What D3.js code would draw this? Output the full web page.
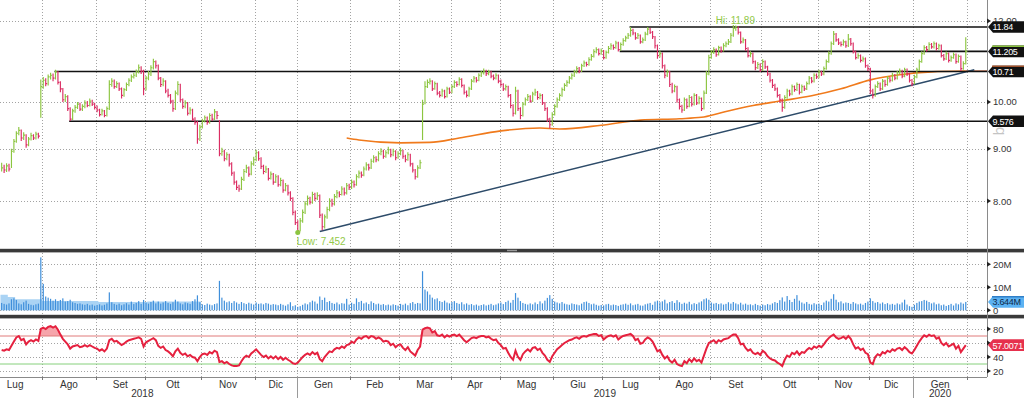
<!DOCTYPE html>
<html>
<head>
<meta charset="utf-8">
<script src="https://cdnjs.cloudflare.com/ajax/libs/d3/7.8.5/d3.min.js"></script>
<style>
  body { margin: 0; background: #fff; }
  svg { display: block; font-family: 'Liberation Sans', Arial, sans-serif; }
</style>
</head>
<body>
<div class="canvas"></div>
<script>
// daily bars, first one on 2018-07-09
const firstDate = '2018-07-09'
const closes = [
  8.62, 8.58, 8.66, 8.60, 8.95, 9.15, 9.32, 9.38, 9.22, 9.28,
  9.08, 9.20, 9.27, 9.22, 9.30, 9.26, 10.35, 10.50, 10.42, 10.58,
  10.62, 10.55, 10.70, 10.45, 10.30, 10.05, 10.12, 9.85, 9.62, 9.80,
  9.88, 9.95, 9.84, 9.90, 9.98, 9.92, 10.02, 9.95, 9.88, 9.82,
  9.72, 9.80, 9.70, 9.85, 10.40, 10.48, 10.35, 10.42, 10.30, 10.15,
  10.28, 10.40, 10.50, 10.58, 10.62, 10.70, 10.80, 10.72, 10.30, 10.55,
  10.65, 10.80, 10.95, 10.85, 10.55, 10.40, 10.48, 10.25, 10.15, 10.02,
  9.85, 10.20, 10.40, 10.05, 9.90, 9.98, 9.75, 9.82, 9.62, 9.55,
  9.20, 9.45, 9.58, 9.65, 9.55, 9.70, 9.62, 9.78, 9.70, 8.90,
  8.95, 8.80, 8.88, 8.70, 8.52, 8.35, 8.25, 8.22, 8.40, 8.55,
  8.62, 8.50, 8.70, 8.78, 8.92, 8.80, 8.65, 8.55, 8.60, 8.42,
  8.50, 8.35, 8.45, 8.30, 8.38, 8.20, 8.28, 8.15, 8.05, 7.80,
  7.62, 7.48, 7.65, 7.80, 7.95, 8.05, 7.98, 8.12, 8.05, 8.10,
  7.75, 7.55, 7.72, 7.85, 8.00, 7.95, 8.08, 8.15, 8.12, 8.22,
  8.15, 8.28, 8.25, 8.35, 8.30, 8.45, 8.52, 8.48, 8.60, 8.68,
  8.62, 8.75, 8.82, 8.78, 8.90, 8.95, 8.85, 8.92, 8.98, 8.88,
  8.95, 8.82, 8.90, 8.96, 8.85, 8.78, 8.88, 8.70, 8.58, 8.45,
  8.62, 8.72, 9.95, 10.35, 10.45, 10.48, 10.30, 10.42, 10.20, 10.15,
  10.25, 10.12, 10.30, 10.22, 10.35, 10.45, 10.40, 10.52, 10.38, 10.22,
  10.15, 10.30, 10.48, 10.55, 10.50, 10.62, 10.68, 10.72, 10.66, 10.70,
  10.60, 10.55, 10.62, 10.48, 10.40, 10.30, 10.35, 10.15, 9.92, 9.75,
  10.25, 9.85, 9.70, 9.95, 10.05, 10.12, 10.02, 10.18, 10.22, 10.10,
  10.15, 9.98, 9.85, 9.62, 9.50, 9.72, 9.90, 10.05, 10.15, 10.28,
  10.38, 10.45, 10.55, 10.62, 10.70, 10.78, 10.72, 10.85, 10.92, 10.88,
  11.00, 11.08, 11.20, 11.25, 11.15, 11.22, 11.05, 11.18, 11.28, 11.35,
  11.30, 11.42, 11.25, 11.38, 11.48, 11.55, 11.62, 11.75, 11.68, 11.55,
  11.62, 11.45, 11.50, 11.65, 11.78, 11.70, 11.58, 11.35, 11.10, 11.15,
  10.85, 10.62, 10.70, 10.40, 10.25, 10.35, 10.05, 9.90, 9.82, 10.05,
  9.90, 10.10, 9.95, 10.15, 9.98, 10.08, 9.85, 10.20, 10.65, 11.05,
  11.18, 11.25, 11.12, 11.30, 11.22, 11.35, 11.40, 11.45, 11.62, 11.80,
  11.85, 11.70, 11.45, 11.50, 11.28, 11.10, 11.15, 10.95, 10.80, 10.88,
  10.75, 10.95, 10.82, 10.65, 10.50, 10.38, 10.30, 10.15, 10.05, 9.88,
  10.10, 10.25, 10.18, 10.35, 10.28, 10.40, 10.22, 10.35, 10.30, 10.42,
  10.55, 10.48, 10.62, 10.58, 10.70, 10.65, 10.78, 10.95, 11.15, 11.40,
  11.65, 11.50, 11.42, 11.38, 11.45, 11.35, 11.52, 11.40, 11.20, 11.05,
  11.10, 10.98, 11.02, 10.85, 10.78, 10.25, 10.15, 10.35, 10.42, 10.30,
  10.48, 10.40, 10.55, 10.50, 10.62, 10.55, 10.68, 10.72, 10.60, 10.75,
  10.65, 10.50, 10.42, 10.58, 10.75, 10.95, 11.15, 11.30, 11.25, 11.38,
  11.32, 11.40, 11.28, 11.35, 11.10, 11.02, 11.15, 10.98, 11.05, 11.12,
  10.95, 11.08, 10.78, 10.90, 11.205
]
const highs = [
  8.72, 8.68, 8.71, 8.70, 9.00, 9.20, 9.36, 9.45, 9.40, 9.34,
  9.30, 9.24, 9.33, 9.30, 9.35, 9.33, 10.52, 10.58, 10.55, 10.64,
  10.68, 10.66, 10.75, 10.72, 10.48, 10.32, 10.18, 10.15, 9.88, 9.85,
  9.93, 10.00, 9.98, 9.95, 10.04, 10.02, 10.08, 10.05, 9.98, 9.92,
  9.85, 9.85, 9.82, 9.90, 10.50, 10.55, 10.52, 10.48, 10.45, 10.33,
  10.32, 10.45, 10.55, 10.64, 10.68, 10.76, 10.88, 10.84, 10.75, 10.60,
  10.72, 10.86, 11.02, 10.98, 10.88, 10.58, 10.55, 10.50, 10.30, 10.18,
  10.05, 10.26, 10.48, 10.42, 10.08, 10.04, 10.00, 9.88, 9.85, 9.66,
  9.58, 9.50, 9.63, 9.70, 9.68, 9.75, 9.74, 9.84, 9.80, 9.60,
  9.02, 8.98, 8.93, 8.90, 8.73, 8.55, 8.38, 8.30, 8.45, 8.60,
  8.68, 8.65, 8.75, 8.84, 8.98, 8.95, 8.83, 8.68, 8.66, 8.62,
  8.55, 8.52, 8.50, 8.48, 8.43, 8.40, 8.33, 8.30, 8.18, 8.07,
  7.83, 7.66, 7.70, 7.85, 8.00, 8.10, 8.08, 8.17, 8.15, 8.16,
  8.12, 7.78, 7.76, 7.90, 8.05, 8.04, 8.13, 8.20, 8.18, 8.27,
  8.25, 8.33, 8.32, 8.40, 8.38, 8.50, 8.57, 8.55, 8.65, 8.73,
  8.70, 8.80, 8.87, 8.85, 8.95, 9.01, 8.98, 8.97, 9.04, 9.00,
  9.00, 8.97, 8.95, 9.02, 8.98, 8.88, 8.93, 8.90, 8.72, 8.60,
  8.67, 8.78, 10.05, 10.48, 10.52, 10.55, 10.50, 10.47, 10.44, 10.25,
  10.30, 10.28, 10.35, 10.33, 10.40, 10.50, 10.48, 10.57, 10.55, 10.40,
  10.26, 10.35, 10.53, 10.60, 10.58, 10.67, 10.73, 10.78, 10.75, 10.75,
  10.73, 10.64, 10.67, 10.64, 10.52, 10.43, 10.40, 10.37, 10.18, 9.95,
  10.35, 10.28, 9.88, 10.00, 10.10, 10.18, 10.15, 10.23, 10.30, 10.25,
  10.20, 10.18, 10.00, 9.88, 9.65, 9.77, 9.95, 10.10, 10.20, 10.33,
  10.43, 10.50, 10.60, 10.67, 10.75, 10.84, 10.82, 10.90, 10.98, 10.95,
  11.06, 11.14, 11.26, 11.31, 11.28, 11.28, 11.24, 11.23, 11.34, 11.41,
  11.38, 11.48, 11.45, 11.43, 11.54, 11.61, 11.68, 11.84, 11.79, 11.70,
  11.68, 11.64, 11.56, 11.71, 11.84, 11.81, 11.73, 11.60, 11.38, 11.22,
  11.18, 10.88, 10.76, 10.72, 10.44, 10.40, 10.37, 10.08, 9.94, 10.10,
  10.08, 10.16, 10.13, 10.20, 10.18, 10.13, 10.10, 10.26, 10.72, 11.12,
  11.24, 11.31, 11.28, 11.35, 11.33, 11.41, 11.46, 11.52, 11.68, 11.89,
  11.88, 11.86, 11.72, 11.56, 11.52, 11.31, 11.21, 11.18, 10.98, 10.94,
  10.91, 11.01, 10.98, 10.85, 10.68, 10.53, 10.42, 10.33, 10.18, 10.08,
  10.15, 10.30, 10.28, 10.40, 10.38, 10.45, 10.42, 10.40, 10.38, 10.47,
  10.60, 10.58, 10.67, 10.66, 10.75, 10.73, 10.83, 11.00, 11.21, 11.46,
  11.73, 11.68, 11.54, 11.46, 11.51, 11.48, 11.65, 11.55, 11.43, 11.23,
  11.16, 11.13, 11.08, 11.05, 10.88, 10.80, 10.30, 10.40, 10.48, 10.45,
  10.53, 10.51, 10.60, 10.58, 10.68, 10.65, 10.73, 10.78, 10.75, 10.80,
  10.78, 10.68, 10.53, 10.63, 10.80, 11.00, 11.21, 11.36, 11.34, 11.44,
  11.42, 11.46, 11.43, 11.40, 11.38, 11.14, 11.20, 11.18, 11.10, 11.18,
  11.15, 11.13, 11.10, 10.96, 11.57
]
const lows = [
  8.55, 8.52, 8.54, 8.55, 8.62, 8.92, 9.12, 9.28, 9.16, 9.18,
  9.02, 9.05, 9.17, 9.18, 9.19, 9.21, 9.65, 10.30, 10.36, 10.38,
  10.52, 10.48, 10.52, 10.40, 10.22, 10.00, 10.00, 9.80, 9.58, 9.60,
  9.76, 9.84, 9.80, 9.80, 9.86, 9.88, 9.90, 9.91, 9.83, 9.77,
  9.68, 9.70, 9.66, 9.68, 9.82, 10.35, 10.30, 10.32, 10.25, 10.08,
  10.12, 10.25, 10.36, 10.46, 10.54, 10.58, 10.66, 10.65, 10.15, 10.26,
  10.50, 10.60, 10.76, 10.78, 10.50, 10.34, 10.36, 10.20, 10.10, 9.96,
  9.78, 9.82, 10.15, 10.00, 9.85, 9.86, 9.70, 9.72, 9.58, 9.50,
  9.10, 9.16, 9.42, 9.55, 9.50, 9.52, 9.58, 9.60, 9.62, 8.85,
  8.86, 8.75, 8.77, 8.65, 8.47, 8.30, 8.20, 8.17, 8.20, 8.37,
  8.52, 8.45, 8.48, 8.66, 8.75, 8.76, 8.60, 8.50, 8.52, 8.38,
  8.40, 8.30, 8.33, 8.26, 8.27, 8.15, 8.18, 8.10, 8.00, 7.75,
  7.58, 7.452, 7.47, 7.62, 7.77, 7.92, 7.94, 7.95, 8.00, 8.02,
  7.70, 7.49, 7.52, 7.69, 7.82, 7.90, 7.92, 8.05, 8.07, 8.10,
  8.10, 8.12, 8.20, 8.22, 8.25, 8.28, 8.42, 8.43, 8.46, 8.57,
  8.57, 8.60, 8.72, 8.73, 8.75, 8.87, 8.80, 8.82, 8.89, 8.83,
  8.85, 8.77, 8.80, 8.87, 8.80, 8.73, 8.76, 8.65, 8.53, 8.40,
  8.43, 8.60, 9.18, 9.95, 10.32, 10.40, 10.25, 10.28, 10.15, 10.10,
  10.12, 10.08, 10.10, 10.18, 10.20, 10.32, 10.35, 10.38, 10.33, 10.17,
  10.10, 10.12, 10.27, 10.45, 10.45, 10.48, 10.58, 10.64, 10.60, 10.62,
  10.55, 10.50, 10.52, 10.43, 10.35, 10.25, 10.26, 10.10, 9.86, 9.68,
  9.72, 9.80, 9.62, 9.68, 9.92, 10.02, 9.98, 10.00, 10.14, 10.05,
  10.06, 9.93, 9.80, 9.56, 9.42, 9.48, 9.70, 9.87, 10.02, 10.12,
  10.25, 10.35, 10.42, 10.52, 10.58, 10.66, 10.67, 10.70, 10.82, 10.83,
  10.85, 10.97, 11.05, 11.16, 11.10, 11.12, 11.00, 11.02, 11.15, 11.25,
  11.25, 11.27, 11.20, 11.22, 11.35, 11.45, 11.52, 11.58, 11.62, 11.50,
  11.52, 11.40, 11.41, 11.47, 11.62, 11.65, 11.52, 11.28, 11.02, 11.05,
  10.78, 10.55, 10.58, 10.34, 10.20, 10.22, 9.98, 9.83, 9.76, 9.80,
  9.85, 9.88, 9.90, 9.92, 9.93, 9.95, 9.80, 9.83, 10.18, 10.62,
  11.02, 11.14, 11.07, 11.10, 11.17, 11.20, 11.31, 11.37, 11.42, 11.58,
  11.74, 11.64, 11.40, 11.41, 11.22, 11.05, 11.06, 10.90, 10.74, 10.77,
  10.70, 10.72, 10.77, 10.60, 10.45, 10.32, 10.25, 10.10, 9.98, 9.78,
  9.85, 10.07, 10.13, 10.15, 10.23, 10.25, 10.17, 10.20, 10.25, 10.27,
  10.40, 10.43, 10.45, 10.53, 10.55, 10.60, 10.62, 10.75, 10.92, 11.12,
  11.37, 11.45, 11.37, 11.33, 11.35, 11.30, 11.32, 11.35, 11.15, 11.00,
  11.02, 10.93, 10.95, 10.80, 10.72, 10.18, 10.08, 10.12, 10.32, 10.25,
  10.27, 10.35, 10.37, 10.45, 10.47, 10.50, 10.52, 10.64, 10.55, 10.57,
  10.60, 10.45, 10.36, 10.40, 10.55, 10.72, 10.92, 11.12, 11.20, 11.22,
  11.27, 11.28, 11.23, 11.25, 11.05, 10.97, 10.99, 10.93, 10.95, 11.02,
  10.90, 10.92, 10.72, 10.75, 10.88
]
// volume, millions
const volumes = [
  3.2, 2.8, 2.5, 3.0, 4.8, 5.2, 4.5, 3.0, 2.6, 3.5,
  4.2, 2.8, 2.4, 2.2, 2.6, 2.9, 23.0, 11.5, 6.0, 5.5,
  5.0, 4.2, 4.8, 4.0, 4.5, 5.2, 3.8, 4.0, 4.6, 3.5,
  3.2, 2.8, 3.0, 2.6, 2.4, 2.8, 2.2, 2.5, 2.0, 2.3,
  2.6, 2.1, 2.4, 3.0, 7.8, 3.5, 2.8, 2.4, 2.9, 2.2,
  2.6, 3.1, 2.5, 3.8, 2.7, 3.2, 4.0, 2.8, 4.5, 3.3,
  2.9, 3.6, 4.2, 3.0, 3.8, 2.9, 3.4, 4.0, 3.2, 2.8,
  3.5, 4.6, 3.8, 3.0, 2.6, 3.4, 3.1, 2.8, 4.0, 4.8,
  6.5, 3.5, 2.6, 2.3, 2.9, 2.5, 2.2, 2.7, 3.0, 12.8,
  5.5, 4.2, 3.5, 3.9, 3.2, 4.0, 3.4, 2.8, 3.6, 3.1,
  2.7, 3.3, 2.9, 2.5, 3.4, 2.8, 3.0, 2.6, 3.2, 2.9,
  2.4, 2.7, 2.5, 2.2, 2.8, 2.4, 2.0, 2.6, 3.5, 1.8,
  2.2, 1.5, 1.8, 2.4, 3.0, 2.6, 3.5, 4.2, 3.8, 2.9,
  6.0, 4.5, 5.5, 3.6, 4.0, 3.2, 2.8, 3.4, 2.6, 3.1,
  2.9, 5.0, 2.5, 3.3, 2.8, 5.2, 3.6, 4.1, 3.0, 3.4,
  2.7, 3.9, 3.2, 2.6, 2.9, 2.4, 2.7, 2.2, 2.5, 2.1,
  2.6, 2.3, 2.0, 2.8, 2.4, 2.9, 2.2, 3.1, 3.6, 2.8,
  3.2, 3.0, 17.0, 9.0, 8.2, 6.8, 5.5, 4.8, 5.2, 4.0,
  3.6, 4.2, 3.4, 3.0, 3.6, 4.0, 3.2, 2.8, 3.5, 2.6,
  3.0, 2.4, 2.7, 2.2, 2.5, 2.0, 2.3, 2.6, 2.1, 2.4,
  2.8, 2.2, 2.5, 3.0, 3.4, 2.7, 3.6, 4.2, 3.3, 4.5,
  7.5, 5.5, 4.0, 3.2, 2.8, 2.5, 3.0, 2.6, 3.4, 2.7,
  3.9, 3.0, 4.2, 5.4, 6.6, 5.0, 3.8, 3.4, 3.0, 3.6,
  2.9, 2.6, 2.4, 3.0, 2.7, 2.5, 2.2, 2.9, 3.6, 3.8,
  3.2, 2.6, 2.9, 2.4, 2.0, 2.3, 2.1, 2.6, 2.8, 2.2,
  2.5, 2.3, 1.9, 2.4, 2.6, 2.9, 2.4, 3.0, 2.2, 2.5,
  2.8, 2.1, 2.0, 2.6, 2.9, 3.2, 2.4, 3.8, 4.2, 3.5,
  3.9, 4.6, 3.0, 3.6, 4.0, 3.2, 4.4, 3.5, 2.8, 3.3,
  2.9, 3.7, 2.6, 3.1, 2.7, 3.4, 3.9, 4.8, 5.2, 4.6,
  3.4, 2.9, 3.2, 2.7, 3.0, 2.5, 2.8, 3.5, 2.9, 3.6,
  3.0, 2.6, 3.3, 2.5, 2.9, 2.4, 2.6, 2.2, 2.8, 2.3,
  2.0, 2.5, 2.2, 2.7, 2.4, 3.0, 3.6, 3.2, 4.4, 5.6,
  3.8, 6.2, 4.5, 3.6, 5.0, 6.6, 4.2, 3.4, 2.9, 3.6,
  2.8, 2.5, 3.1, 2.6, 2.9, 2.3, 3.4, 4.2, 3.8, 5.0,
  7.0, 4.6, 3.5, 3.9, 3.0, 3.4, 3.2, 2.8, 3.6, 3.0,
  2.6, 2.9, 2.4, 3.2, 3.8, 5.2, 4.0, 3.3, 3.6, 2.9,
  3.4, 2.7, 3.1, 2.5, 2.8, 2.4, 3.0, 2.6, 3.4, 4.6,
  2.5, 1.8, 1.5, 2.4, 3.2, 3.8, 4.0, 4.5, 4.2, 3.6,
  3.0, 3.4, 2.6, 2.9, 2.2, 2.5, 1.9, 2.3, 2.8, 2.1,
  3.0, 2.6, 3.4, 2.9, 3.644
]
const rsi = [
  50, 49, 51, 50, 56, 62, 68, 70, 64, 66,
  58, 62, 64, 62, 65, 63, 80, 82, 80, 83,
  84, 82, 84, 79, 72, 66, 62, 58, 52, 55,
  56, 57, 54, 55, 57, 55, 57, 55, 53, 52,
  49, 51, 48, 52, 64, 66, 62, 63, 60, 57,
  59, 62, 64, 65, 66, 67, 68, 66, 55, 61,
  63, 65, 67, 64, 56, 53, 55, 50, 48, 45,
  41, 48, 52, 46, 43, 45, 41, 43, 40, 39,
  34, 40, 44, 45, 43, 47, 45, 49, 47, 33,
  34, 31, 33, 30, 28, 27, 27, 28, 34, 39,
  42, 40, 45, 48, 51, 47, 43, 40, 42, 38,
  41, 38, 41, 37, 40, 36, 39, 36, 34, 31,
  30, 32, 36, 40, 43, 45, 43, 47, 44, 46,
  37, 34, 40, 44, 48, 47, 51, 53, 52, 55,
  53, 57, 58, 62, 60, 65, 68, 66, 69, 70,
  67, 70, 69, 66, 68, 66, 62, 63, 62, 57,
  59, 54, 57, 58, 53, 50, 54, 48, 45, 42,
  50, 55, 79, 81, 82, 81, 75, 77, 71, 70,
  72, 68, 71, 69, 71, 72, 70, 72, 68, 64,
  61, 64, 67, 68, 67, 69, 70, 70, 68, 69,
  66, 64, 65, 60, 57, 52, 53, 46, 40, 36,
  49, 40, 36, 44, 48, 51, 48, 53, 54, 50,
  52, 46, 42, 36, 33, 41, 46, 51, 54, 57,
  60, 62, 64, 65, 67, 68, 66, 69, 70, 69,
  71, 72, 73, 73, 70, 71, 65, 68, 70, 71,
  69, 71, 65, 68, 70, 71, 72, 73, 70, 64,
  66, 59, 60, 65, 68, 66, 62, 55, 48, 50,
  43, 38, 41, 35, 32, 36, 30, 28, 27, 34,
  31, 37, 33, 38, 34, 36, 32, 42, 52, 60,
  62, 64, 60, 64, 62, 65, 66, 67, 70, 72,
  72, 67, 58, 59, 53, 49, 51, 46, 44, 46,
  43, 49, 46, 41, 38, 36, 35, 32, 30, 27,
  36, 42, 40, 46, 44, 48, 43, 47, 46, 50,
  53, 51, 55, 53, 56, 54, 58, 63, 67, 70,
  72, 68, 66, 67, 69, 66, 70, 66, 58, 52,
  54, 50, 52, 46, 44, 32, 30, 40, 44, 42,
  47, 45, 49, 47, 51, 49, 52, 53, 50, 54,
  51, 47, 45, 50, 56, 62, 67, 71, 69, 72,
  70, 71, 66, 68, 60, 57, 60, 55, 57, 59,
  52, 56, 47, 52, 57.0071
]

// moving average (orange), read at a few bars
const maIdx = [141, 146, 163, 175, 187, 204, 220, 228, 245, 261, 277, 286, 294, 306, 318, 331, 343, 355, 367, 380, 394]
const maVals = [9.22, 9.18, 9.12, 9.13, 9.22, 9.37, 9.43, 9.41, 9.49, 9.60, 9.63, 9.66, 9.76, 9.91, 10.02, 10.14, 10.30, 10.51, 10.63, 10.70, 10.72]
// volume average (light blue)
const volAvgIdx = [0, 3, 6, 17, 40, 60, 82]
const volAvgVals = [6.8, 5.8, 4.8, 4.0, 3.6, 3.8, 3.4]
// trend line and horizontal levels
const trendIdx = [130, 397.5]
const trendVals = [7.47, 10.75]
const levelVals = [11.84, 11.205, 10.71, 9.576]
const levelLabels = ['11.84', '11.205', '10.71', '9.576']
const levelFrom = [257, 253, 22, 28]

const priceTicks = [8, 9, 10, 12]
const volTicks = [0, 10, 20]
const volTickLabels = ['0', '10M', '20M']
const rsiTicks = [20, 40, 60, 80]
const rsiTickLabels = ['20', '40', '', '80'] // 60 sits under the last-value tag
const monthNames = ['Gen', 'Feb', 'Mar', 'Apr', 'Mag', 'Giu', 'Lug', 'Ago', 'Set', 'Ott', 'Nov', 'Dic']
const holidays = ['2018-08-15', '2018-12-24', '2018-12-25', '2018-12-26', '2018-12-31', '2019-01-01',
  '2019-04-19', '2019-04-22', '2019-05-01', '2019-08-15', '2019-12-24', '2019-12-25', '2019-12-26',
  '2019-12-31', '2020-01-01']

const n = closes.length
if ([highs, lows, volumes, rsi].some(a => a.length !== n)) {
  throw new Error('length mismatch ' + [n, highs.length, lows.length, volumes.length, rsi.length].join(','))
}

// trading calendar, starting with the first week of July
const days = []
const hol = new Set(holidays)
for (let t = Date.UTC(2018, 6, 2); t <= Date.UTC(2020, 0, 31); t += 864e5) {
  const d = new Date(t)
  const wd = d.getUTCDay()
  if (wd === 0 || wd === 6 || hol.has(d.toISOString().slice(0, 10))) continue
  days.push(d)
}
const offset = days.findIndex(d => d.toISOString().slice(0, 10) === firstDate)

const W = 1024, H = 398
const axisX = 987
const pPanel = [0, 248], vPanel = [253, 314], rPanel = [319, 377]

const svg = d3.select('.canvas').append('svg')
  .attr('width', W)
  .attr('height', H)

const x = d3.scaleLinear().domain([0, days.length]).range([-11.8, 967])
const bx = i => x(i + offset + 0.5)

const py = d3.scaleLog().domain([7.198, 12.58]).range([248, 0])
const vy = d3.scaleLinear().domain([0, 25]).range([310.3, 252.8])
const ry = d3.scaleLinear().domain([0, 100]).range([385, 315])

// clip paths
const defs = svg.append('defs')
const clip = (id, y0, y1) => defs.append('clipPath').attr('id', id)
  .append('rect').attr('x', 0).attr('y', y0).attr('width', axisX).attr('height', y1 - y0)
clip('cp', pPanel[0], pPanel[1])
clip('cv', vPanel[0], vPanel[1])
clip('cr', rPanel[0], rPanel[1])

const grid = svg.append('g')
  .attr('stroke', '#a3a3a3')
  .attr('stroke-dasharray', '1,2')
  .attr('shape-rendering', 'crispEdges')

// month boundaries
const monthStarts = [0]
days.forEach((d, i) => { if (i > 0 && d.getUTCMonth() !== days[i - 1].getUTCMonth()) monthStarts.push(i) })
monthStarts.push(days.length)

monthStarts.slice(1).forEach(ci => {
  const xx = Math.round(x(ci)) + 0.5
  ;[pPanel, vPanel, rPanel].forEach(p => {
    grid.append('line').attr('x1', xx).attr('x2', xx).attr('y1', p[0]).attr('y2', p[1])
  })
})

// horizontal grid
priceTicks.forEach(t => grid.append('line').attr('x1', 0).attr('x2', axisX)
  .attr('y1', Math.round(py(t)) + 0.5).attr('y2', Math.round(py(t)) + 0.5))
volTicks.forEach(t => grid.append('line').attr('x1', 0).attr('x2', axisX)
  .attr('y1', Math.round(vy(t)) + 0.5).attr('y2', Math.round(vy(t)) + 0.5))
rsiTicks.forEach(t => grid.append('line').attr('x1', 0).attr('x2', axisX)
  .attr('y1', Math.round(ry(t)) + 0.5).attr('y2', Math.round(ry(t)) + 0.5))

// faint watermark at the right edge, under the tags
svg.append('text')
  .attr('transform', 'translate(1004,127) rotate(-90)')
  .attr('font-size', 15)
  .attr('fill', '#c4c4c4')
  .attr('text-anchor', 'middle')
  .text('bg')

// ---- price panel
const price = svg.append('g').attr('clip-path', 'url(#cp)')

price.append('path')
  .datum(maIdx.map((d, i) => [d, maVals[i]]))
  .attr('d', d3.line().x(d => bx(d[0])).y(d => py(d[1])).curve(d3.curveMonotoneX))
  .attr('fill', 'none')
  .attr('stroke', '#f07a1c')
  .attr('stroke-width', 1.6)

price.append('line')
  .attr('x1', bx(maIdx[maIdx.length - 1])).attr('x2', axisX)
  .attr('y1', py(maVals[maVals.length - 1])).attr('y2', py(maVals[maVals.length - 1]))
  .attr('stroke', '#b5532c').attr('stroke-width', 1.4)

price.append('line')
  .attr('x1', bx(trendIdx[0])).attr('y1', py(trendVals[0]))
  .attr('x2', bx(trendIdx[1])).attr('y2', py(trendVals[1]))
  .attr('stroke', '#2d4b69')
  .attr('stroke-width', 1.6)

levelVals.forEach((v, k) => {
  price.append('line')
    .attr('x1', bx(levelFrom[k]) - 1).attr('x2', axisX)
    .attr('y1', py(v)).attr('y2', py(v))
    .attr('stroke', '#111')
    .attr('stroke-width', 1.6)
})

const barData = closes.map((c, i) => ({ i, c, h: highs[i], l: lows[i], up: i === 0 || c >= closes[i - 1] }))

price.selectAll('path.bar')
  .data(barData)
  .enter()
  .append('path')
    .attr('class', 'bar')
    .attr('d', d => {
      const xx = bx(d.i)
      return `M${xx},${py(d.h)}V${py(d.l)}M${xx},${py(d.c)}H${xx + 1.5}`
    })
    .attr('stroke', d => d.up ? '#8cc540' : '#db2d63')
    .attr('stroke-width', 1.15)
    .attr('fill', 'none')

// hi / low marks
const iHi = highs.indexOf(d3.max(highs))
const iLo = lows.indexOf(d3.min(lows))
svg.append('text')
  .attr('x', bx(iHi) + 2).attr('y', py(highs[iHi]) - 1.5)
  .attr('text-anchor', 'middle')
  .attr('font-size', 10).attr('fill', '#93c94a')
  .text(`Hi: ${highs[iHi]}`)
svg.append('circle')
  .attr('cx', bx(iLo)).attr('cy', py(lows[iLo]))
  .attr('r', 2.5).attr('fill', '#8cc540')
svg.append('text')
  .attr('x', bx(iLo) - 1).attr('y', py(lows[iLo]) + 12)
  .attr('font-size', 10).attr('fill', '#93c94a')
  .text(`Low: ${lows[iLo]}`)

// ---- volume panel
const vol = svg.append('g').attr('clip-path', 'url(#cv)')

vol.append('path')
  .datum(volAvgIdx.map((d, i) => [d, volAvgVals[i]]))
  .attr('d', d3.area().x(d => bx(d[0]) - 1.2).y0(vy(0)).y1(d => vy(d[1])).curve(d3.curveStepAfter))
  .attr('fill', '#aad3f4')

vol.selectAll('rect.vbar')
  .data(volumes)
  .enter()
  .append('rect')
    .attr('class', 'vbar')
    .attr('x', (d, i) => bx(i) - 0.6)
    .attr('width', 1.2)
    .attr('y', d => vy(d))
    .attr('height', d => vy(0) - vy(d))
    .attr('fill', '#3f8fdb')

// ---- rsi panel
const rs = svg.append('g').attr('clip-path', 'url(#cr)')

rs.append('path')
  .datum(rsi)
  .attr('d', d3.area().x((d, i) => bx(i)).y0(ry(70)).y1(d => ry(Math.max(d, 70))))
  .attr('fill', '#f6a5ab')
rs.append('path')
  .datum(rsi)
  .attr('d', d3.area().x((d, i) => bx(i)).y0(ry(30)).y1(d => ry(Math.min(d, 30))))
  .attr('fill', '#b2e3a8')

rs.append('line').attr('x1', 0).attr('x2', axisX).attr('y1', ry(70)).attr('y2', ry(70))
  .attr('stroke', '#e07b7b').attr('stroke-width', 1)
rs.append('line').attr('x1', 0).attr('x2', axisX).attr('y1', ry(30)).attr('y2', ry(30))
  .attr('stroke', '#86d07c').attr('stroke-width', 1)

rs.append('path')
  .datum(rsi)
  .attr('d', d3.line().x((d, i) => bx(i)).y(d => ry(d)))
  .attr('fill', 'none')
  .attr('stroke', '#e5213f')
  .attr('stroke-width', 2)

// ---- frame
svg.append('rect').attr('x', 0).attr('y', 248.8).attr('width', W).attr('height', 3.6).attr('fill', '#3a3a3a')
svg.append('rect').attr('x', 0).attr('y', 314.8).attr('width', W).attr('height', 3.6).attr('fill', '#3a3a3a')
svg.append('rect').attr('x', 507).attr('y', 249.8).attr('width', 10).attr('height', 1.4).attr('fill', '#9a9a9a')

svg.append('line').attr('x1', axisX + 0.5).attr('x2', axisX + 0.5).attr('y1', 0).attr('y2', rPanel[1])
  .attr('stroke', '#8a8a8a')
svg.append('line').attr('x1', 0).attr('x2', axisX).attr('y1', rPanel[1] + 0.5).attr('y2', rPanel[1] + 0.5)
  .attr('stroke', '#8a8a8a')

// x axis: ticks, months, years
const xAxis = svg.append('g').attr('font-size', 10).attr('fill', '#333').attr('text-anchor', 'middle')
monthStarts.slice(1).forEach(ci => {
  const xx = Math.round(x(ci)) + 0.5
  xAxis.append('line').attr('x1', xx).attr('x2', xx).attr('y1', rPanel[1]).attr('y2', rPanel[1] + 3)
    .attr('stroke', '#777')
})
for (let k = 0; k < monthStarts.length - 1; k++) {
  const cx = (x(monthStarts[k]) + x(monthStarts[k + 1])) / 2
  xAxis.append('text').attr('x', cx).attr('y', 388)
    .text(monthNames[days[monthStarts[k]].getUTCMonth()])
}
const years = d3.groups(days.map((d, i) => [d.getUTCFullYear(), i]), d => d[0])
years.forEach(([yr, arr]) => {
  const a = arr[0][1], b = arr[arr.length - 1][1] + 1
  xAxis.append('text').attr('x', (x(a) + x(b)) / 2).attr('y', 397).text(yr)
  if (a > 0) {
    xAxis.append('line').attr('x1', Math.round(x(a)) + 0.5).attr('x2', Math.round(x(a)) + 0.5)
      .attr('y1', rPanel[1]).attr('y2', H).attr('stroke', '#9a9a9a')
  }
})

// right axis labels
const rAxis = svg.append('g').attr('font-size', 9.5).attr('fill', '#333')
const tick = (y, label) => {
  rAxis.append('path').attr('d', `M${axisX},${y - 2.5}L${axisX + 4},${y}L${axisX},${y + 2.5}Z`).attr('fill', '#222')
  if (label) rAxis.append('text').attr('x', axisX + 6).attr('y', y + 3.5).text(label)
}
priceTicks.forEach(t => tick(py(t), t.toFixed(2)))
volTicks.forEach((t, k) => tick(vy(t), volTickLabels[k]))
rsiTicks.forEach((t, k) => tick(ry(t), rsiTickLabels[k]))

const tag = (y, label, fill, color, edge) => {
  const g = svg.append('g').attr('transform', `translate(${axisX + 1},${y})`)
  g.append('path').attr('d', 'M0,0L5,-5.8H37V5.8H5Z').attr('fill', fill)
  if (edge) g.append('path').attr('d', 'M4,-5.2H37').attr('stroke', edge).attr('stroke-width', 1.4)
  g.append('text').attr('x', 4.5).attr('y', 3.4)
    .attr('font-size', 9).attr('letter-spacing', -0.3)
    .attr('fill', color).text(label)
}
const tagEdges = [null, '#8cc540', '#a0522d', null]
levelVals.forEach((v, k) => tag(py(v), levelLabels[k], '#111', '#fff', tagEdges[k]))
tag(vy(volumes[n - 1]), volumes[n - 1] + 'M', '#5cb2f2', '#0e2a48', '#2f7fc8')
tag(ry(rsi[n - 1]), String(rsi[n - 1]), '#e6304d', '#fff', null)
</script>
</body>
</html>
